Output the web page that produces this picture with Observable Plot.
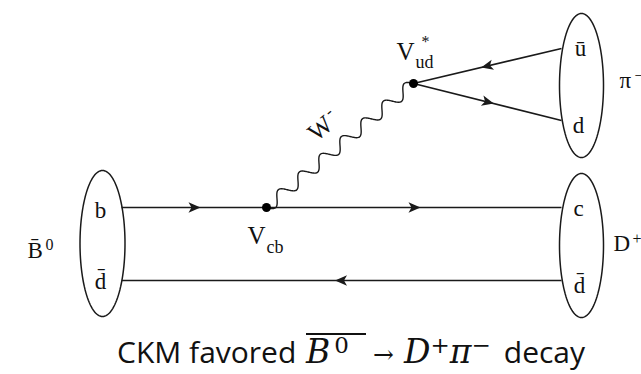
<!DOCTYPE html>
<html>
<head>
<meta charset="utf-8">
<script src="https://cdn.jsdelivr.net/npm/d3@7"></script>
<script src="https://cdn.jsdelivr.net/npm/@observablehq/plot@0.6"></script>
<style>
  html, body { margin: 0; padding: 0; background: #fff; overflow: hidden; }
  #diagram svg { display: block; }
  .caption {
    height: 44px; line-height: 44px; white-space: nowrap;
    padding-left: 117px; color: #111;
    font-family: "Open Sans", sans-serif; font-size: 30px;
  }
  .caption .m { font-family: "DejaVu Serif", serif; font-style: italic; font-size: 33px; margin-left: 2px; }
  .caption sup { font-size: 23px; font-style: normal; vertical-align: 10px; line-height: 0; }
  .caption .ov {
    display: inline-block; width: 60px; line-height: 1;
    border-top: 2px solid #111; padding-top: 0;
  }
  .caption .ov sup { margin-left: 4px; }
  .caption .arr { font-style: normal; font-size: 25px; margin: 0 10px 0 7px; }
  .caption .d { margin-left: 13px; }
</style>
</head>
<body>
<div id="diagram"></div>
<div class="caption">CKM favored <span class="m"><span class="ov">B<sup>0</sup></span><span class="arr">→</span>D<sup>+</sup>π<sup>−</sup></span><span class="d">decay</span></div>
<script>
// Diagram units: x to the right, y downwards.
const hadrons = [
  { name: "B̄0", cx: 102, cy: 243, rx: 22.5, ry: 73 },
  { name: "D+", cx: 581, cy: 245, rx: 22, ry: 72 },
  { name: "π-", cx: 581, cy: 85, rx: 22, ry: 72 }
];

const vertices = [
  { name: "Vcb", x: 266, y: 207 },
  { name: "Vud", x: 413, y: 83 }
];

// Fermion propagators, oriented along the fermion-flow arrow.
const quarks = [
  { q: "b", x1: 121, y1: 207, x2: 266, y2: 207 },
  { q: "c", x1: 266, y1: 207, x2: 561, y2: 207 },
  { q: "d̄", x1: 561, y1: 280, x2: 121, y2: 280 },
  { q: "ū", x1: 561, y1: 48, x2: 413, y2: 83 },
  { q: "d", x1: 413, y1: 83, x2: 561, y2: 120 }
];

// W boson between the two weak vertices.
const boson = { name: "W-", from: "Vcb", to: "Vud", cycles: 7, amplitude: 6 };

// Quark labels inside the hadron outlines (centred).
const quarkLabels = [
  { text: "b", x: 100, y: 217 },
  { text: "d\u0304", x: 100, y: 288 },
  { text: "c", x: 578, y: 215 },
  { text: "d\u0304", x: 579, y: 292 },
  { text: "ū", x: 580, y: 55 },
  { text: "d", x: 578, y: 132 }
];

// Hadron and CKM labels (left-aligned); role picks the font size.
const labels = [
  { text: "B\u0304", x: 27, y: 257, role: "hadron" },
  { text: "0", x: 45, y: 249, role: "sup" },
  { text: "D", x: 613, y: 250, role: "hadron" },
  { text: "+", x: 632, y: 243, role: "sup" },
  { text: "π", x: 619, y: 87, role: "hadron" },
  { text: "−", x: 634, y: 80, role: "sup" },
  { text: "V", x: 247, y: 243, role: "ckm" },
  { text: "cb", x: 266, y: 252, role: "sub" },
  { text: "V", x: 396, y: 59, role: "ckm" },
  { text: "ud", x: 415, y: 67, role: "sub" },
  { text: "*", x: 421, y: 46, role: "sup" }
];
const fontSizes = { hadron: 23, ckm: 25, sub: 18, sup: 16 };

const bosonLabel = [
  { text: "W", x: 320, y: 128, size: 25 },
  { text: "-", x: 328, y: 111, size: 16 }
];
const bosonLabelAngle = -40;

// Closed outline of each hadron.
const outline = hadrons.flatMap(h =>
  d3.range(0, 360, 3).map(a => ({
    name: h.name,
    x: h.cx + h.rx * Math.cos(a * Math.PI / 180),
    y: h.cy + h.ry * Math.sin(a * Math.PI / 180)
  }))
);

// Sinusoidal boson propagator.
const byName = Object.fromEntries(vertices.map(v => [v.name, v]));
const p0 = byName[boson.from], p1 = byName[boson.to];
const len = Math.hypot(p1.x - p0.x, p1.y - p0.y);
const nx = -(p1.y - p0.y) / len, ny = (p1.x - p0.x) / len;
const wave = d3.range(0, 401).map(i => {
  const t = i / 400;
  const s = boson.amplitude * Math.sin(2 * Math.PI * boson.cycles * t);
  return { x: p0.x + t * (p1.x - p0.x) + s * nx, y: p0.y + t * (p1.y - p0.y) + s * ny };
});

// Filled arrowhead pointing along +x, with a notched back.
const arrowHead = {
  draw(context) {
    context.moveTo(6.5, 0);
    context.lineTo(-5.5, -5.2);
    context.lineTo(-2.5, 0);
    context.lineTo(-5.5, 5.2);
    context.closePath();
  }
};

const ink = "#1a1a1a";
const serif = "Liberation Serif";

const chart = Plot.plot({
  width: 641,
  height: 330,
  margin: 0,
  x: { domain: [0, 641], axis: null },
  y: { domain: [0, 330], reverse: true, axis: null },
  marks: [
    Plot.line(outline, { x: "x", y: "y", z: "name", curve: "linear-closed", stroke: ink, strokeWidth: 1.5 }),
    Plot.link(quarks, { x1: "x1", y1: "y1", x2: "x2", y2: "y2", stroke: ink, strokeWidth: 1.7 }),
    Plot.line(wave, { x: "x", y: "y", stroke: ink, strokeWidth: 1.4, curve: "basis" }),
    Plot.dot(quarks, {
      x: d => (d.x1 + d.x2) / 2,
      y: d => (d.y1 + d.y2) / 2,
      rotate: d => Math.atan2(d.y2 - d.y1, d.x2 - d.x1) * 180 / Math.PI,
      symbol: arrowHead, fill: ink, stroke: "none"
    }),
    Plot.dot(vertices, { x: "x", y: "y", r: 4.5, fill: "#000", stroke: "none" }),
    Plot.text(quarkLabels, {
      x: "x", y: "y", text: "text", textAnchor: "middle",
      fontSize: 23, fontFamily: serif, lineAnchor: "bottom", fill: "#111"
    }),
    Plot.text(labels, {
      x: "x", y: "y", text: "text", textAnchor: "start",
      fontSize: d => fontSizes[d.role], fontFamily: serif, lineAnchor: "bottom", fill: "#111"
    }),
    Plot.text(bosonLabel, {
      x: "x", y: "y", text: "text", fontSize: d => d.size, fontFamily: serif,
      rotate: bosonLabelAngle, fill: "#111"
    })
  ]
});
document.getElementById("diagram").append(chart);
</script>
</body>
</html>
